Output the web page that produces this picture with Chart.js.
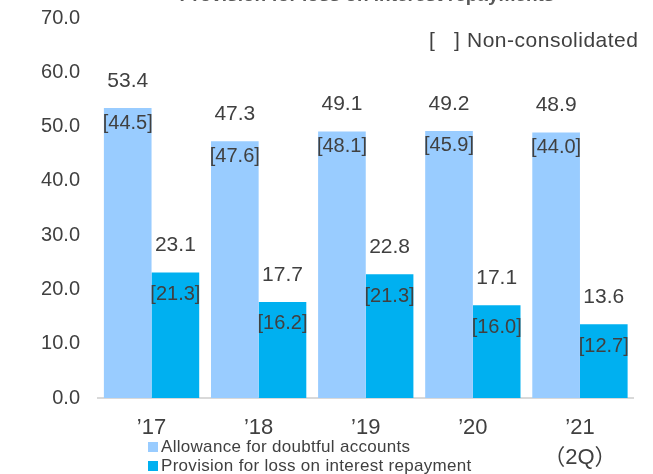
<!DOCTYPE html>
<html>
<head>
<meta charset="utf-8">
<script src="https://cdn.jsdelivr.net/npm/chart.js@4"></script>
<style>
html,body{margin:0;padding:0;background:#fff;}
#wrap{width:653px;height:474px;position:relative;}
</style>
</head>
<body>
<div id="wrap"><canvas id="c" width="653" height="474"></canvas></div>
<script>
const categories = [['’17'], ['’18'], ['’19'], ['’20'], ['’21', '（2Q）']];
const seriesNames = ['Allowance for doubtful accounts', 'Provision for loss on interest repayment'];
const allowance = [53.4, 47.3, 49.1, 49.2, 48.9];
const allowanceNonConsol = [44.5, 47.6, 48.1, 45.9, 44.0];
const provision = [23.1, 17.7, 22.8, 17.1, 13.6];
const provisionNonConsol = [21.3, 16.2, 21.3, 16.0, 12.7];
const yTicks = [0, 10, 20, 30, 40, 50, 60, 70];
const titleText = 'Provision for loss on interest repayments';
const noteText = 'Non-consolidated';

const FONT = "'Liberation Sans', 'Noto Sans CJK JP', sans-serif";
const TEXT = '#404040';
const LIGHT = '#99CCFF';
const DARK = '#00B0F0';

const labelPlugin = {
  id: 'labels',
  afterDatasetsDraw(chart) {
    const ctx = chart.ctx;
    ctx.save();
    ctx.fillStyle = TEXT;
    ctx.textAlign = 'center';
    ctx.textBaseline = 'middle';
    const brackets = [allowanceNonConsol, provisionNonConsol];
    const inOff = [15, 22];
    chart.data.datasets.forEach((ds, di) => {
      const meta = chart.getDatasetMeta(di);
      meta.data.forEach((bar, i) => {
        ctx.font = '21px ' + FONT;
        ctx.fillText(ds.data[i].toFixed(1), bar.x, bar.y - 27);
        ctx.font = '20px ' + FONT;
        ctx.fillText('[' + brackets[di][i].toFixed(1) + ']', bar.x, bar.y + inOff[di]);
      });
    });
    // title (cut off at top)
    ctx.font = 'bold 19px ' + FONT;
    ctx.textBaseline = 'alphabetic';
    ctx.fillStyle = '#595959';
    ctx.fillText(titleText, 367, 1);
    // note
    ctx.fillStyle = TEXT;
    ctx.font = '21px ' + FONT;
    ctx.textBaseline = 'middle';
    ctx.textAlign = 'left';
    ctx.fillText('[', 429, 41);
    ctx.fillText(']', 454, 41);
    ctx.letterSpacing = '0.5px';
    ctx.fillText(noteText, 467, 41);
    ctx.letterSpacing = '0px';
    // legend
    const colors = [LIGHT, DARK];
    const ys = [447, 466];
    ctx.font = '17px ' + FONT;
    ctx.letterSpacing = '0.3px';
    seriesNames.forEach((n, i) => {
      ctx.fillStyle = colors[i];
      ctx.fillRect(148, ys[i] - 5, 10, 10);
      ctx.fillStyle = TEXT;
      ctx.fillText(n, 161, ys[i]);
    });
    ctx.letterSpacing = '0px';
    ctx.restore();
  }
};

new Chart(document.getElementById('c'), {
  type: 'bar',
  data: {
    labels: categories,
    datasets: [
      { label: seriesNames[0], data: allowance, backgroundColor: LIGHT, borderWidth: 0 },
      { label: seriesNames[1], data: provision, backgroundColor: DARK, borderWidth: 0 }
    ]
  },
  options: {
    responsive: false,
    animation: false,
    events: [],
    layout: { autoPadding: false, padding: { left: 0, right: 19.5, top: 18, bottom: 0 } },
    plugins: { legend: { display: false }, tooltip: { enabled: false }, title: { display: false } },
    datasets: { bar: { barPercentage: 1.0, categoryPercentage: 0.89 } },
    scales: {
      x: {
        grid: { display: false, drawTicks: false },
        border: { display: true, color: '#d9d9d9', width: 2 },
        ticks: { color: TEXT, font: { family: FONT, size: 22, lineHeight: 1.35 }, padding: 15, maxRotation: 0, autoSkip: false },
        afterFit(s) { s.height = 76; s.paddingLeft = 0; s.paddingRight = 0; }
      },
      y: {
        min: 0, max: 70,
        afterBuildTicks(s) { s.ticks = yTicks.map(v => ({ value: v })); },
        grid: { display: false, drawTicks: false },
        border: { display: false },
        ticks: { color: TEXT, font: { family: FONT, size: 20 }, padding: 18, callback: v => Number(v).toFixed(1) },
        afterFit(s) { s.width = 98; s.paddingTop = 0; s.paddingBottom = 0; }
      }
    }
  },
  plugins: [labelPlugin]
});
</script>
</body>
</html>
